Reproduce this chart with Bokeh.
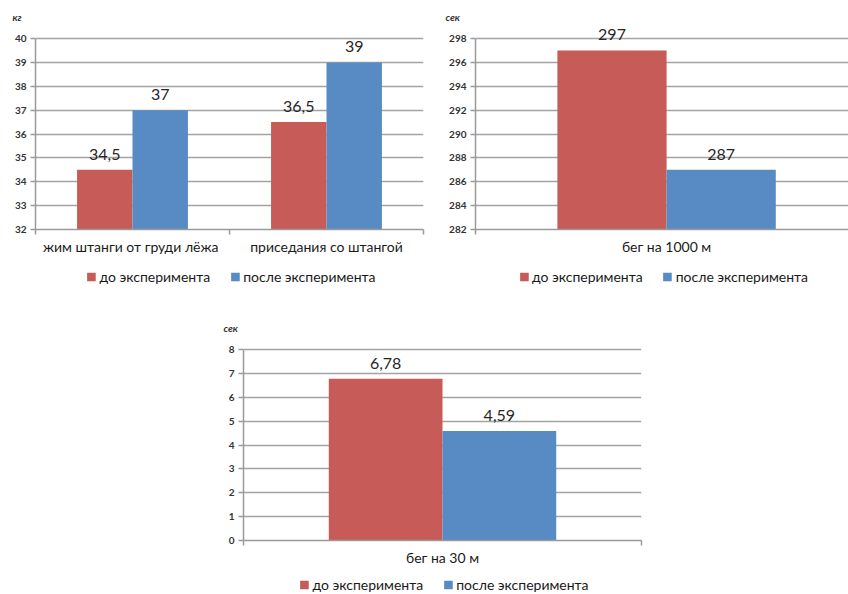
from bokeh.plotting import figure
from bokeh.models import Range1d, FixedTicker, Legend, LegendItem, Spacer, ColumnDataSource
from bokeh.layouts import column, row
from bokeh.embed import file_html
from bokeh.resources import INLINE
from bokeh.core.properties import value
from bokeh.transform import dodge

FONT = "Lato"
SERIES = ["до эксперимента", "после эксперимента"]
COLORS = ["#C65B57", "#588AC4"]

# chart 1: strength
cats1 = ["жим  штанги от груди лёжа", "приседания со штангой"]
before1 = [34.5, 36.5]
after1 = [37, 39]
unit1 = "кг"
yticks1 = [32, 33, 34, 35, 36, 37, 38, 39, 40]

# chart 2: 1000 m run
cats2 = ["бег на 1000 м"]
before2 = [297]
after2 = [287]
unit2 = "сек"
yticks2 = [282, 284, 286, 288, 290, 292, 294, 296, 298]

# chart 3: 30 m run
cats3 = ["бег на 30 м"]
before3 = [6.78]
after3 = [4.59]
unit3 = "сек"
yticks3 = [0, 1, 2, 3, 4, 5, 6, 7, 8]

GRID = "#A3A3A3"
AXIS = "#9A9A9A"
BAR_W = 1 / 3.5
TOP = 22        # border above frame
HEAD = 16       # free room inside the frame above the top gridline (px)
GRID_H = 191    # px between bottom and top gridline
MAIN_H = TOP + HEAD + GRID_H + 32


def fmt(v):
    return f"{v:g}".replace(".", ",")


def make_chart(cats, before, after, unit, yticks, width, bl, br, x_end, unit_dx,
               leg_h, leg_margin):
    n = len(cats)
    y0, y1 = yticks[0], yticks[-1]
    y_end = y1 + HEAD * (y1 - y0) / GRID_H
    p = figure(width=width, height=MAIN_H,
               x_range=Range1d(0, x_end if x_end else n),
               y_range=Range1d(y0, y_end),
               output_backend="svg", toolbar_location=None,
               min_border_left=bl, min_border_right=br,
               min_border_top=TOP, min_border_bottom=32)
    p.outline_line_color = None
    p.background_fill_color = "white"
    p.border_fill_color = "white"

    p.title.text = unit
    p.title.align = "left"
    p.title.offset = unit_dx
    p.title.standoff = 0
    p.title.text_font = FONT
    p.title.text_font_size = "10px"
    p.title.text_font_style = "bold italic"
    p.title.text_color = "#333333"

    centers = [i + 0.5 for i in range(n)]
    src = ColumnDataSource(dict(
        x=centers, before=before, after=after,
        bl=[fmt(v) for v in before], al=[fmt(v) for v in after]))

    p.vbar(x=dodge("x", -BAR_W / 2), top="before", bottom=y0, width=BAR_W,
           fill_color=COLORS[0], line_color=None, source=src)
    p.vbar(x=dodge("x", BAR_W / 2), top="after", bottom=y0, width=BAR_W,
           fill_color=COLORS[1], line_color=None, source=src)
    for xf, yf, tf in ((-BAR_W / 2, "before", "bl"), (BAR_W / 2, "after", "al")):
        p.text(x=dodge("x", xf), y=yf, text=tf, source=src,
               text_align="center", text_baseline="bottom", y_offset=-10,
               text_font=value(FONT), text_font_size="16px", text_color="#262626")

    # x axis
    xa = p.xaxis[0]
    xa.ticker = FixedTicker(ticks=centers, minor_ticks=list(range(n + 1)))
    xa.major_label_overrides = {c: name for c, name in zip(centers, cats)}
    xa.major_tick_line_color = None
    xa.major_tick_out = 0
    xa.major_tick_in = 0
    xa.minor_tick_out = 5
    xa.minor_tick_in = 0
    xa.minor_tick_line_color = AXIS
    xa.minor_tick_line_width = 1.5
    xa.axis_line_color = AXIS
    xa.axis_line_width = 1.5
    xa.major_label_standoff = 3
    xa.major_label_text_font = FONT
    xa.major_label_text_font_size = "14px"
    xa.major_label_text_color = "#1A1A1A"

    # y axis
    ya = p.yaxis[0]
    ya.ticker = FixedTicker(ticks=yticks)
    ya.bounds = (y0, y1)
    ya.major_tick_out = 5
    ya.major_tick_in = 0
    ya.minor_tick_line_color = None
    ya.major_tick_line_color = AXIS
    ya.major_tick_line_width = 1.5
    ya.axis_line_color = AXIS
    ya.axis_line_width = 1.5
    ya.major_label_standoff = 4
    ya.major_label_text_font = FONT
    ya.major_label_text_font_size = "10px"
    ya.major_label_text_font_style = "bold"
    ya.major_label_text_color = "#333333"

    p.xgrid.grid_line_color = None
    p.ygrid.ticker = FixedTicker(ticks=yticks)
    p.ygrid.grid_line_color = GRID
    p.ygrid.grid_line_width = 1.5

    # legend strip underneath, aligned with the plot frame
    lg = figure(width=width, height=leg_h, x_range=Range1d(0, 1), y_range=Range1d(0, 1),
                output_backend="svg", toolbar_location=None,
                x_axis_location=None, y_axis_location=None,
                min_border_left=bl, min_border_right=br, min_border_top=0, min_border_bottom=0)
    lg.outline_line_color = None
    lg.grid.grid_line_color = None
    lg.background_fill_color = "white"
    d1 = lg.vbar(x="x", top="before", width=BAR_W, fill_color=COLORS[0],
                 line_color="white", line_width=5, source=src, visible=False)
    d2 = lg.vbar(x="x", top="after", width=BAR_W, fill_color=COLORS[1],
                 line_color="white", line_width=5, source=src, visible=False)
    legend = Legend(items=[LegendItem(label=SERIES[0], renderers=[d1], index=0),
                           LegendItem(label=SERIES[1], renderers=[d2], index=0)],
                    orientation="horizontal", location="top_center",
                    padding=0, margin=leg_margin, spacing=16, glyph_width=17, glyph_height=17,
                    label_standoff=0, label_height=17,
                    label_text_font=FONT, label_text_font_size="14px",
                    label_text_color="#1A1A1A", inactive_fill_alpha=0,
                    border_line_color=None, background_fill_alpha=0)
    lg.add_layout(legend, "center")
    return column(p, lg, spacing=0)


c1 = make_chart(cats1, before1, after1, unit1, yticks1, 430, 35, 7, None, -23, 311 - MAIN_H, 7)
c2 = make_chart(cats2, before2, after2, unit2, yticks2, 418, 45, 0, 0.976, -30, 311 - MAIN_H, 7)
c3 = make_chart(cats3, before3, after3, unit3, yticks3, 460, 43, 19, None, -20,
                594 - 311 - MAIN_H, 4)

layout = column(row(c1, c2, spacing=0), row(Spacer(width=200, height=10), c3, spacing=0), spacing=0)
open("out.html", "w").write(file_html(layout, INLINE))
